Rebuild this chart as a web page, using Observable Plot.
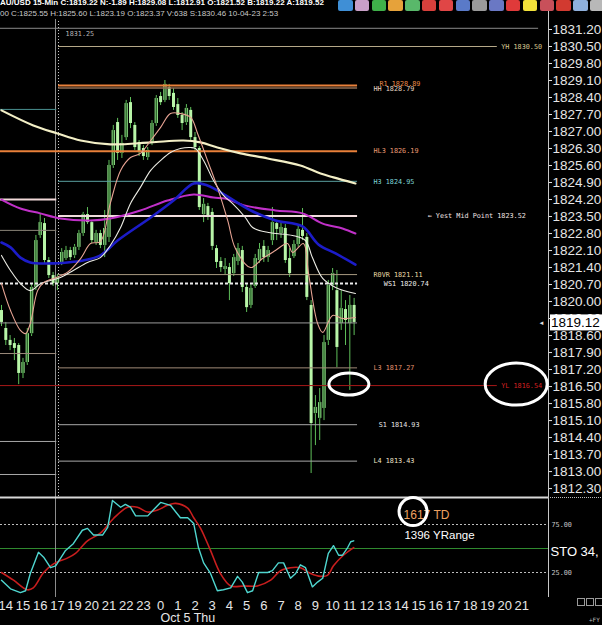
<!DOCTYPE html>
<html>
<head>
<meta charset="utf-8">
<script src="https://cdn.jsdelivr.net/npm/d3@7"></script>
<script src="https://cdn.jsdelivr.net/npm/@observablehq/plot@0.6"></script>
<style>
  html, body { margin: 0; padding: 0; background: #000; }
  #wrap { position: relative; width: 602px; height: 625px; overflow: hidden; background: #000; }
  #wrap svg { display: block; }
  #pricePane { position: absolute; left: 0; top: 0; }
  #stoPane { position: absolute; left: 0; top: 496px; }
  .hdr { position: absolute; left: 0; white-space: nowrap; font-family: "Liberation Sans", Arial, sans-serif; background: #000; }
  #hdr1 { top: -3px; height: 12px; width: 602px; font-size: 8px; font-weight: bold; color: #fff; line-height: 12px; }
  #hdr2 { top: 9px; height: 10px; font-size: 8px; color: #c8c8c8; line-height: 10px; padding-right: 2px; }
  #icons { position: absolute; left: 338px; top: 0; display: flex; gap: 2.3px; }
  #icons span { display: block; width: 14.5px; height: 11px; border-radius: 2px; }
  #boxes { position: absolute; left: 577px; top: 598px; display: flex; gap: 1px; }
  #boxes span { display: block; width: 6px; height: 6px; border: 1px solid #9a9a9a; }
  #fy { position: absolute; left: 589px; top: 616px; font: 6px "DejaVu Sans Mono", monospace; color: #bbb; }
</style>
</head>
<body>
<div id="wrap">
  <div id="pricePane"></div>
  <div id="stoPane"></div>
  <div class="hdr" id="hdr1"></div>
  <div class="hdr" id="hdr2"></div>
  <div id="icons"></div>
  <div id="boxes"><span></span><span></span><span></span></div>
  <div id="fy">+FY</div>
</div>
<script>
// ---------------- DATA ----------------
const headerLine1 = "AU/USD 15-Min C:1819.22 N:-1.89 H:1829.08 L:1812.91 O:1821.52 B:1819.22 A:1819.52";
const headerLine2 = "00 C:1825.55 H:1825.60 L:1823.19 O:1823.37 V:638 S:1830.46 10-04-23 2:53";

// 15-minute candles, bar index 0..82
const open  = [1819.63,1818.89,1818.40,1818.27,1818.19,1817.04,1817.49,1818.68,1820.58,1822.72,
               1823.21,1821.69,1821.07,1820.74,1821.61,1821.77,1822.10,1821.90,1822.23,1822.80,
               1823.58,1823.25,1822.43,1822.80,1822.31,1822.64,1825.60,1827.37,1826.10,1826.75,
               1828.19,1827.25,1826.55,1826.30,1825.93,1826.55,1827.33,1828.44,1828.28,1828.81,
               1828.57,1828.11,1827.66,1827.37,1827.87,1826.75,1826.30,1823.58,1823.91,1823.67,
               1822.18,1821.65,1821.32,1821.40,1821.15,1821.65,1822.10,1820.58,1819.84,1820.62,
               1821.69,1822.27,1821.81,1822.51,1823.21,1822.80,1823.01,1821.77,1821.85,1822.35,
               1822.93,1822.64,1819.84,1815.39,1815.19,1815.60,1818.40,1820.66,1820.45,1819.10,
               1819.67,1819.10,1819.84];
const high  = [1819.84,1819.14,1818.60,1818.48,1818.27,1817.66,1818.89,1820.74,1822.72,1823.63,
               1823.42,1821.81,1821.20,1821.11,1822.18,1822.27,1822.23,1822.35,1822.93,1823.67,
               1823.87,1823.34,1822.93,1822.93,1823.75,1825.81,1827.25,1827.54,1826.84,1828.28,
               1828.40,1827.37,1826.63,1826.42,1826.34,1827.45,1828.48,1828.61,1829.10,1828.94,
               1828.77,1828.36,1827.78,1828.11,1827.99,1826.96,1826.38,1824.24,1824.04,1823.83,
               1822.31,1821.81,1821.77,1821.57,1821.94,1822.39,1822.27,1820.70,1820.70,1821.94,
               1822.39,1822.51,1822.27,1823.87,1823.34,1823.25,1823.17,1822.18,1822.51,1823.09,
               1823.83,1822.80,1820.04,1816.13,1816.42,1818.60,1820.87,1821.36,1821.28,1820.45,
               1820.04,1820.25,1820.13];
const low   = [1818.97,1818.19,1817.98,1817.57,1816.58,1816.83,1817.37,1818.56,1820.45,1822.60,
               1821.57,1820.95,1820.62,1820.45,1821.48,1821.69,1821.69,1821.77,1822.10,1822.68,
               1823.17,1822.39,1822.31,1822.18,1821.81,1822.43,1825.48,1825.81,1825.89,1826.63,
               1827.12,1826.22,1825.97,1825.81,1825.81,1826.42,1827.21,1828.07,1828.19,1828.28,
               1827.87,1827.54,1827.04,1827.25,1826.63,1826.14,1823.75,1823.25,1823.34,1822.10,
               1821.36,1821.20,1821.11,1820.04,1821.03,1821.48,1820.37,1819.55,1819.71,1820.54,
               1821.57,1821.61,1821.61,1822.31,1822.51,1822.60,1821.57,1820.99,1821.77,1822.23,
               1822.51,1820.04,1812.92,1814.07,1814.28,1815.10,1818.19,1820.45,1817.28,1818.81,
               1818.19,1816.34,1818.60];
const close = [1819.14,1818.40,1818.19,1818.07,1817.04,1817.49,1818.68,1820.58,1822.51,1823.25,
               1821.69,1821.07,1820.74,1820.99,1822.02,1822.10,1821.81,1822.23,1822.80,1823.58,
               1823.25,1822.51,1822.80,1822.31,1823.01,1825.60,1827.04,1826.10,1826.51,1828.15,
               1827.33,1826.34,1826.14,1825.97,1826.22,1827.33,1828.36,1828.19,1828.94,1828.44,
               1827.99,1827.66,1827.33,1827.95,1826.75,1826.34,1823.87,1824.00,1823.50,1822.27,
               1821.61,1821.40,1821.44,1820.74,1821.81,1822.18,1820.58,1819.75,1820.54,1821.77,
               1822.14,1821.81,1822.10,1823.25,1822.97,1823.05,1821.69,1821.15,1822.35,1822.97,
               1822.68,1820.17,1814.98,1815.64,1815.84,1818.31,1820.66,1821.15,1818.11,1819.71,
               1819.22,1819.84,1819.14];

// moving averages: [bar position], [price]
const creamPos = [0,7.4,13,18.4,25.3,34.7,42.3,46.3,50.2,55.6,61.9,69.5,74.2,77.2,82.3];
const creamVal = [1827.87,1827.25,1826.92,1826.63,1826.47,1826.55,1826.63,1826.55,1826.34,1826.10,1825.89,1825.60,1825.27,1825.11,1824.86];
const magPos = [0,4.4,9,13.7,20.7,25.3,32.3,38.6,44.7,49.3,52,56.7,63.7,70,74.7,79.3,82.3];
const magVal = [1824.20,1823.83,1823.63,1823.42,1823.34,1823.42,1823.75,1824.16,1824.41,1824.28,1824.24,1823.95,1823.75,1823.63,1823.21,1823.01,1822.80];
const bluePos = [0,2.1,4.4,6.7,11.4,15.3,19,23,27,34.7,40,44.7,47.9,52.6,58,63.7,70,73.7,77.7,82.3];
const blueVal = [1822.43,1822.23,1821.81,1821.61,1821.57,1821.61,1821.69,1821.90,1822.51,1823.46,1824.16,1824.86,1824.78,1824.32,1823.75,1823.34,1823.09,1822.35,1821.98,1821.52];
const pinkPos = [0,2.1,4.4,5.6,6.7,8.4,9.8,12.1,15.3,18.4,20.7,23,25.3,27.7,30,32.3,34.7,37,39.3,41.6,44,45.6,47.9,50.2,52.6,54.4,57.9,60.7,63.7,66.5,67.7,70.2,71.4,73.5,74.7,77,79.3,82.3];
const pinkVal = [1820.74,1819.63,1818.81,1818.68,1819.10,1820.45,1820.78,1820.95,1821.20,1821.77,1822.39,1822.47,1824.04,1825.40,1825.93,1826.10,1826.63,1827.17,1827.74,1827.74,1827.58,1826.92,1825.81,1824.70,1823.34,1822.18,1821.40,1821.77,1822.10,1822.39,1822.02,1822.39,1821.15,1819.10,1818.73,1819.43,1819.30,1819.34];
const whitePos = [0,2.1,4.4,6.7,9.1,11.4,13.7,16.7,20,23,25.3,27.7,30,32.3,34.7,37,39.3,41.6,44,45.1,47,49.3,51.6,53.7,56.7,58.4,62.1,67.7,70.7,72.3,74.7,77.7,82.3];
const whiteVal = [1821.90,1821.28,1820.74,1820.45,1820.74,1820.87,1820.99,1821.28,1821.61,1821.81,1822.31,1823.05,1824.04,1824.70,1825.40,1825.81,1826.14,1826.30,1826.34,1826.30,1825.81,1824.98,1824.37,1824.04,1823.46,1823.05,1822.84,1822.72,1822.51,1821.81,1820.95,1820.58,1820.33];

// stochastic %K (teal) and %D (red)
const kPos = [0,2.1,4.4,5.6,6.7,8.6,9.8,11.4,12.6,14.9,16.7,18.8,20,21.4,23.5,24.7,25.8,27.7,28.8,30,31.2,34,35.3,37,39.3,41.6,43.3,44.7,45.8,47,48.6,50.2,51.6,53.3,54.9,56,57.2,58.4,59.8,61.9,63,64.4,65.6,67.2,68.4,69.5,70.7,72.3,73.5,74.7,76,77.2,78.4,79.3,80.5,81.2,81.9];
const kVal = [17,8,4,6,24,46,41,30,32,48,55,69,71,64,64,72,100,93,96,93,84,84,90,98,95,82,82,76,51,35,24,6,7,9,21,15,4,6,25,25,27,35,35,19,24,33,30,10,15,19,45,53,43,43,51,57,58];
const dPos = [0,2.8,6,7.4,9.8,12.1,15.3,17.2,20,23,26,29.3,31.6,34,36.3,38.6,40.5,43.3,44.7,46.3,48.6,50.9,53.3,56.3,59.5,62.6,64.9,67.2,69.5,71.9,74.2,75.8,77.2,79.5,81.9];
const dVal = [25,17,7,9,25,34,40,45,58,66,81,93,93,88,90,95,97,92,82,71,48,24,11,11,11,17,27,30,30,24,21,22,32,43,51];
const stoLevels = [75, 25];
const stoMid = 50;

// levels
const levelNames  = ["YH","R1","HH","HL3","H3","Yest Mid Point","R0VR","WS1","L3","YL","S1","L4"];
const levelValues = [1830.50,1828.89,1828.79,1826.19,1824.95,1823.52,1821.11,1820.74,1817.27,1816.54,1814.93,1813.43];
const prevSessionLevels = [1827.91,1824.20,1822.93,1817.86,1814.24,1812.88];
const topLevel = 1831.25;
const lastPrice = 1819.12;

// ticks
const priceTicks = [1831.20,1830.50,1829.80,1829.10,1828.40,1827.70,1827.00,1826.30,1825.60,1824.90,1824.20,1823.50,1822.80,1822.10,1821.40,1820.70,1820.00,1819.30,1818.60,1817.90,1817.20,1816.50,1815.80,1815.10,1814.40,1813.70,1813.00,1812.30];
const hourLabels = ["14","15","16","17","19","20","21","22","23","0","1","2","3","4","5","6","7","8","9","10","11","12","13","14","15","16","17","18","19","20","21"];
const dayLabel = "Oct 5 Thu";
const stoName = "STO 34,";
const tdText = "1617 TD";
const yrText = "1396 YRange";

// ---------------- LAYOUT / STYLE ----------------
const xDom = [-0.23, 127.2];
const sessionLine = 12.56, sessionDots = 13.26, levelEnd = 82.8, farEnd = 115.3, topEnd = 124.9;
const FONT = "Liberation Sans, Arial, sans-serif";
const MONO = "DejaVu Sans Mono, monospace";

const levelStyle = {
  "YH":  {from: sessionDots, to: farEnd, stroke: "#b5a888", w: 1, lx: 116.2, fill: "#d8c890"},
  "R1":  {from: sessionDots, to: levelEnd, stroke: "#e8803a", w: 2, lx: 87.9, fill: "#e88a48", dy: -1.5},
  "HH":  {from: sessionDots, to: levelEnd, stroke: "#8c6c55", w: 1.5, lx: 86.5, fill: "#e6d6c0", dy: 1},
  "HL3": {from: xDom[0], to: levelEnd, stroke: "#e8803a", w: 2, lx: 86.5, fill: "#e89a72"},
  "H3":  {from: sessionDots, to: levelEnd, stroke: "#5aa0a0", w: 1, lx: 86.5, fill: "#7fd6d6"},
  "Yest Mid Point": {from: sessionDots, to: levelEnd, stroke: "#f0dcdc", w: 2, lx: 99.1, fill: "#f0e2e2", arrow: true},
  "R0VR": {from: sessionDots, to: levelEnd, stroke: "#a89a80", w: 1, lx: 86.5, fill: "#e8d8a4"},
  "WS1": {from: xDom[0], to: levelEnd, stroke: "#ececec", w: 2, dash: "3,2", lx: 88.9, fill: "#ececec"},
  "L3":  {from: sessionDots, to: levelEnd, stroke: "#a08a78", w: 1, lx: 86.5, fill: "#e0906e"},
  "YL":  {from: xDom[0], to: farEnd, stroke: "#a81818", w: 1, lx: 116.2, fill: "#d42020"},
  "S1":  {from: sessionDots, to: levelEnd, stroke: "#a8a8a8", w: 1, lx: 87.7, fill: "#e4e4e4"},
  "L4":  {from: sessionDots, to: levelEnd, stroke: "#a8a8a8", w: 1, lx: 86.5, fill: "#ece2c8"}
};
const prevStyle = [
  {stroke: "#4a9090", w: 1}, {stroke: "#f0d8d8", w: 2}, {stroke: "#8a8478", w: 1},
  {stroke: "#9a8a7a", w: 1}, {stroke: "#a8a8a8", w: 1}, {stroke: "#a8a8a8", w: 1}
];

// ---------------- HEADER ----------------
document.getElementById("hdr1").textContent = headerLine1;
document.getElementById("hdr2").textContent = headerLine2;
const iconColors = ["#3f8fd6","#c9a0c8","#3fb04a","#e6a23a","#59b86a","#d8403c","#e04646","#5a7ac8","#9a9a9a","#6a78c4","#e03a3a","#f2e23a","#c8505a","#d23a30","#8fb0dc","#b8b8b8","#c4c4c4","#d4302a"];
const iconBox = document.getElementById("icons");
iconColors.forEach(c => { const s = document.createElement("span"); s.style.background = c; iconBox.appendChild(s); });

// ---------------- PRICE PANE ----------------
const candles = close.map((c, i) => ({i, o: open[i], h: high[i], l: low[i], c}));
const bulls = candles.filter(d => d.c > d.o);
const bears = candles.filter(d => d.c <= d.o);
const series = (pos, val) => pos.map((p, k) => ({i: p, v: val[k]}));

const levelMarks = [];
levelNames.forEach((name, k) => {
  const s = levelStyle[name], v = levelValues[k];
  levelMarks.push(Plot.ruleY([v], {x1: s.from, x2: s.to, stroke: s.stroke, strokeWidth: s.w, strokeDasharray: s.dash}));
});
const labelMarks = [];
levelNames.forEach((name, k) => {
  const s = levelStyle[name], v = levelValues[k];
  const txt = (s.arrow ? "\u2190 " : "") + name + " " + v.toFixed(2);
  labelMarks.push(Plot.text([txt], {x: s.lx, y: v, text: d => d, dy: s.dy || 0, textAnchor: "start",
    fill: s.fill, fontSize: 6.8, fontFamily: MONO}));
});
const prevMarks = prevSessionLevels.map((v, k) =>
  Plot.ruleY([v], {x1: xDom[0], x2: sessionLine + 0.3, stroke: prevStyle[k].stroke, strokeWidth: prevStyle[k].w}));

const price = Plot.plot({
  width: 602, height: 496,
  marginLeft: 0, marginRight: 54, marginTop: 0, marginBottom: 0,
  style: {background: "#000", color: "#e6e6e6", fontFamily: FONT, fontSize: "13.5px"},
  x: {domain: xDom, axis: null},
  y: {domain: [1811.974, 1832.394], axis: "right", ticks: priceTicks, tickFormat: d => d.toFixed(2),
      tickSize: 3, tickPadding: 1, label: null},
  marks: [
    Plot.ruleY([topLevel], {x1: xDom[0], x2: topEnd, stroke: "#8a8a8a"}),
    Plot.text([topLevel.toFixed(2)], {x: 14.9, y: topLevel, dy: 6, text: d => d, textAnchor: "start",
      fill: "#b4b4b4", fontSize: 6.8, fontFamily: MONO}),
    Plot.ruleX([sessionLine], {stroke: "#8c8c8c"}),
    Plot.ruleX([sessionDots], {stroke: "#c4c4c4", strokeDasharray: "1,2"}),
    // candles
    Plot.ruleX(candles, {x: "i", y1: "l", y2: "h", stroke: "#5fbf5a", strokeWidth: 1}),
    Plot.ruleX(bears, {x: "i", y1: "o", y2: "c", stroke: "#b8f5a8", strokeWidth: 3}),
    Plot.ruleX(bulls, {x: "i", y1: "o", y2: "c", stroke: "#86d07e", strokeWidth: 3.4}),
    Plot.ruleX(bulls, {x: "i", y1: "o", y2: "c", stroke: "#2e6a2c", strokeWidth: 1.4, insetTop: 1, insetBottom: 1}),
    // levels
    ...prevMarks,
    ...levelMarks,
    Plot.ruleY([lastPrice], {x1: xDom[0], x2: levelEnd, stroke: "#9a9a9a"}),
    // moving averages
    Plot.line(series(creamPos, creamVal), {x: "i", y: "v", stroke: "#f3efc6", strokeWidth: 2.2, curve: "catmull-rom"}),
    Plot.line(series(magPos, magVal), {x: "i", y: "v", stroke: "#c030c8", strokeWidth: 2, curve: "catmull-rom"}),
    Plot.line(series(bluePos, blueVal), {x: "i", y: "v", stroke: "#1c1cc8", strokeWidth: 2.6, curve: "catmull-rom"}),
    Plot.line(series(whitePos, whiteVal), {x: "i", y: "v", stroke: "#ecece4", strokeWidth: 1.1, curve: "catmull-rom"}),
    Plot.line(series(pinkPos, pinkVal), {x: "i", y: "v", stroke: "#e8a494", strokeWidth: 1.1, curve: "catmull-rom"}),
    ...labelMarks,
    // axis line + current price marker arrow
    Plot.ruleX([xDom[1]], {stroke: "#c8c8c8"}),
    Plot.text(["\u25C4"], {x: xDom[1], y: lastPrice, dx: -7, text: d => d, fill: "#e0e0e0", fontSize: 6})
  ]
});
document.getElementById("pricePane").appendChild(price);

// annotation ellipses and current price box, positioned with the plot's scales
{
  const sx = price.scale("x"), sy = price.scale("y");
  const svg = d3.select(price);
  [[80.9, 1816.58, 20, 11], [119.8, 1816.58, 31, 21]].forEach(([bx, p, rx, ry]) => {
    svg.append("ellipse").attr("cx", sx.apply(bx)).attr("cy", sy.apply(p)).attr("rx", rx).attr("ry", ry)
      .attr("fill", "none").attr("stroke", "#ffffff").attr("stroke-width", 3);
  });
  const ax = sx.apply(xDom[1]), yy = sy.apply(lastPrice);
  svg.append("rect").attr("x", ax + 2).attr("y", yy - 8).attr("width", 52).attr("height", 16).attr("fill", "#ffffff");
  svg.append("text").attr("x", ax + 3).attr("y", yy).attr("dy", "0.36em").attr("fill", "#000")
    .attr("text-anchor", "start").attr("font-size", 13.5).attr("font-family", FONT).text(lastPrice.toFixed(2));
}

// ---------------- STOCHASTIC PANE ----------------
const tickPos = hourLabels.map((_, s) => 1 + 4 * s);
const labelAt = new Map(tickPos.map((p, s) => [p, hourLabels[s]]));

const sto = Plot.plot({
  width: 602, height: 129,
  marginLeft: 0, marginRight: 54, marginTop: 0, marginBottom: 28,
  style: {background: "#000", color: "#e6e6e6", fontFamily: FONT, fontSize: "13px"},
  x: {domain: xDom, ticks: tickPos, tickFormat: d => labelAt.get(d), tickSize: 0, tickPadding: 3, label: null},
  y: {domain: [-1.04, 104.17], axis: null},
  marks: [
    Plot.ruleY(stoLevels, {stroke: "#bdbdbd", strokeDasharray: "2,2"}),
    Plot.ruleY([stoMid], {stroke: "#2f8a2f"}),
    Plot.ruleX([sessionLine], {stroke: "#8c8c8c"}),
    Plot.ruleX([xDom[1]], {stroke: "#c8c8c8"}),
    Plot.ruleY([103.1], {stroke: "#d8d8d8", strokeWidth: 2}),
    Plot.ruleY([103.1], {x1: xDom[1], x2: xDom[1] + 13.5, stroke: "#bdbdbd", strokeDasharray: "1,1"}),
    Plot.line(series(dPos, dVal), {x: "i", y: "v", stroke: "#c81e1e", strokeWidth: 1.6, curve: "catmull-rom"}),
    Plot.line(series(kPos, kVal), {x: "i", y: "v", stroke: "#4fd6d0", strokeWidth: 1.4}),
    Plot.text(stoLevels, {x: xDom[1], y: d => d, dx: 3, text: d => d.toFixed(2), textAnchor: "start",
      fill: "#c8c8c8", fontSize: 6.8, fontFamily: MONO}),
    Plot.text([stoName], {x: xDom[1], y: stoMid, dx: 2, dy: 3, text: d => d, textAnchor: "start",
      fill: "#ffffff", fontSize: 13}),
    Plot.text([tdText], {x: 93.5, y: 85, text: d => d, textAnchor: "start", fill: "#eea060", fontSize: 12}),
    Plot.text([yrText], {x: 93.7, y: 63.5, text: d => d, textAnchor: "start", fill: "#ffffff", fontSize: 11.5}),
    Plot.dot([[95.7, 88.5]], {x: d => d[0], y: d => d[1], r: 14, stroke: "#ffffff", strokeWidth: 3, fill: "none"}),
    Plot.text([dayLabel], {x: 37, frameAnchor: "bottom", dy: 24, text: d => d, textAnchor: "start", fill: "#e6e6e6", fontSize: 12.5})
  ]
});
document.getElementById("stoPane").appendChild(sto);
</script>
</body>
</html>
